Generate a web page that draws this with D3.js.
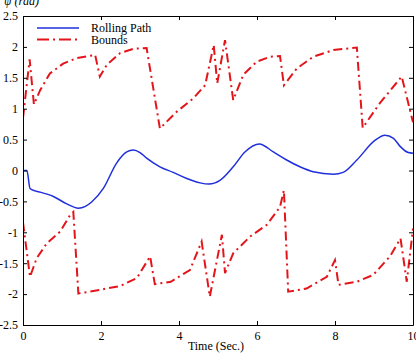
<!DOCTYPE html>
<html>
<head>
<meta charset="utf-8">
<script src="https://cdn.jsdelivr.net/npm/d3@7"></script>
<style>
  html, body { margin: 0; padding: 0; background: #fff; }
  svg { display: block; }
  text { font-family: "Liberation Serif", "DejaVu Serif", serif; }
</style>
</head>
<body>
<svg id="chart" width="416" height="353"></svg>
<script>
// ---- Data ----
const xTicks = [0, 2, 4, 6, 8, 10];
const yTicks = [-2.5, -2, -1.5, -1, -0.5, 0, 0.5, 1, 1.5, 2, 2.5];

const pathT = [0, 0.1, 0.18, 0.31, 0.44, 0.78, 1.12, 1.42, 1.6, 1.76, 2.06, 2.4, 2.66, 2.83, 3.0, 3.17, 3.51, 3.85, 4.2, 4.54, 4.77, 5.05, 5.39, 5.69, 6.06, 6.42, 6.76, 7.1, 7.44, 7.96, 8.21, 8.56, 9.03, 9.28, 9.5, 9.67, 9.88, 10];
const pathY = [0, 0, -0.29, -0.33, -0.35, -0.42, -0.54, -0.61, -0.58, -0.51, -0.29, 0.12, 0.30, 0.33, 0.29, 0.20, 0.06, -0.03, -0.13, -0.20, -0.22, -0.16, 0.06, 0.30, 0.43, 0.30, 0.17, 0.06, -0.02, -0.06, -0.03, 0.17, 0.49, 0.57, 0.52, 0.39, 0.29, 0.28];

const upperT = [0, 0.17, 0.28, 0.44, 0.69, 1.03, 1.38, 1.85, 1.97, 2.15, 2.49, 2.83, 3.17, 3.51, 3.94, 4.37, 4.67, 4.89, 4.98, 5.18, 5.39, 5.65, 5.99, 6.33, 6.59, 6.69, 7.02, 7.44, 7.96, 8.56, 8.71, 9.15, 9.71, 10];
const upperY = [0.85, 1.80, 1.07, 1.3, 1.57, 1.73, 1.82, 1.87, 1.52, 1.71, 1.9, 1.97, 1.98, 0.68, 0.95, 1.17, 1.38, 2.03, 1.41, 2.11, 1.14, 1.55, 1.76, 1.84, 1.85, 1.38, 1.65, 1.84, 1.95, 1.99, 0.69, 1.09, 1.52, 0.78];

const lowerT = [0, 0.18, 0.35, 0.61, 0.95, 1.21, 1.29, 1.42, 1.8, 2.49, 2.92, 3.26, 3.38, 3.79, 4.28, 4.58, 4.79, 5.1, 5.18, 5.39, 5.82, 6.25, 6.59, 6.69, 6.8, 7.27, 7.79, 8.0, 8.09, 8.56, 8.98, 9.41, 9.68, 9.84, 10];
const lowerY = [-0.84, -1.72, -1.42, -1.18, -0.99, -0.72, -0.67, -1.99, -1.95, -1.87, -1.74, -1.39, -1.84, -1.80, -1.61, -1.15, -2.04, -1.04, -1.66, -1.34, -1.07, -0.88, -0.59, -0.32, -1.96, -1.91, -1.72, -1.45, -1.85, -1.80, -1.69, -1.39, -1.1, -1.8, -0.94];

const legendLabels = ["Rolling Path", "Bounds"];

// ---- Layout ----
const svg = d3.select("#chart");
const L = 23, R = 413, T = 16, B = 325;
const x = d3.scaleLinear().domain([0, 10]).range([L, R]);
const y = d3.scaleLinear().domain([-2.5, 2.5]).range([B, T]);

const blue = "#1f2fdc", red = "#e3151b";
const zip = (ts, vs) => ts.map((t, i) => [t, vs[i]]);

svg.append("clipPath").attr("id", "clip")
  .append("rect").attr("x", L).attr("y", T).attr("width", R - L).attr("height", B - T);

const g = svg.append("g").attr("clip-path", "url(#clip)");
const lineLin = d3.line().x(d => x(d[0])).y(d => y(d[1]));
const lineSmooth = d3.line().x(d => x(d[0])).y(d => y(d[1])).curve(d3.curveMonotoneX);

g.append("path").datum(zip(upperT, upperY)).attr("d", lineLin)
  .attr("fill", "none").attr("stroke", red).attr("stroke-width", 2).attr("stroke-dasharray", "9,4,2,4");
g.append("path").datum(zip(lowerT, lowerY)).attr("d", lineLin)
  .attr("fill", "none").attr("stroke", red).attr("stroke-width", 2).attr("stroke-dasharray", "9,4,2,4");
g.append("path").datum(zip(pathT, pathY)).attr("d", lineSmooth)
  .attr("fill", "none").attr("stroke", blue).attr("stroke-width", 1.5);

// ---- Axes ----
const fmt = d => String(d);
const axB = svg.append("g").attr("transform", `translate(0,${B})`)
  .call(d3.axisBottom(x).tickValues(xTicks).tickSizeInner(-4).tickSizeOuter(0).tickPadding(6).tickFormat(fmt));
const axT = svg.append("g").attr("transform", `translate(0,${T})`)
  .call(d3.axisTop(x).tickValues(xTicks).tickSizeInner(-4).tickSizeOuter(0).tickFormat(""));
const axL = svg.append("g").attr("transform", `translate(${L},0)`)
  .call(d3.axisLeft(y).tickValues(yTicks).tickSizeInner(-4).tickSizeOuter(0).tickPadding(5).tickFormat(fmt));
const axR = svg.append("g").attr("transform", `translate(${R},0)`)
  .call(d3.axisRight(y).tickValues(yTicks).tickSizeInner(-4).tickSizeOuter(0).tickFormat(""));

[axB, axT, axL, axR].forEach(a => {
  a.selectAll("path").attr("stroke", "#000").attr("stroke-width", 1);
  a.selectAll("line").attr("stroke", "#000").attr("stroke-width", 1);
  a.selectAll("text").attr("fill", "#000").style("font-size", "12px")
    .style("font-family", '"Liberation Serif", serif');
});
axB.selectAll("text").attr("dy", "0.71em");

// ---- Labels ----
svg.append("text").attr("x", L + (R - L) / 2 - 2).attr("y", 350).attr("text-anchor", "middle")
  .style("font-size", "12px").text("Time (Sec.)");
const yl = svg.append("text").attr("x", 4).attr("y", 5).style("font-size", "12px").style("font-style", "italic");
yl.append("tspan").text("ψ");
yl.append("tspan").text(" (rad)");

// ---- Legend ----
const lg = svg.append("g");
lg.append("line").attr("x1", 37).attr("x2", 79).attr("y1", 28).attr("y2", 28)
  .attr("stroke", blue).attr("stroke-width", 1.5);
lg.append("line").attr("x1", 37).attr("x2", 79).attr("y1", 39.5).attr("y2", 39.5)
  .attr("stroke", red).attr("stroke-width", 2).attr("stroke-dasharray", "12,4,2,4");
lg.selectAll("text.lab").data(legendLabels).join("text").attr("class", "lab")
  .attr("x", 91).attr("y", (d, i) => 32 + i * 12).style("font-size", "12px").text(d => d);
</script>
</body>
</html>
